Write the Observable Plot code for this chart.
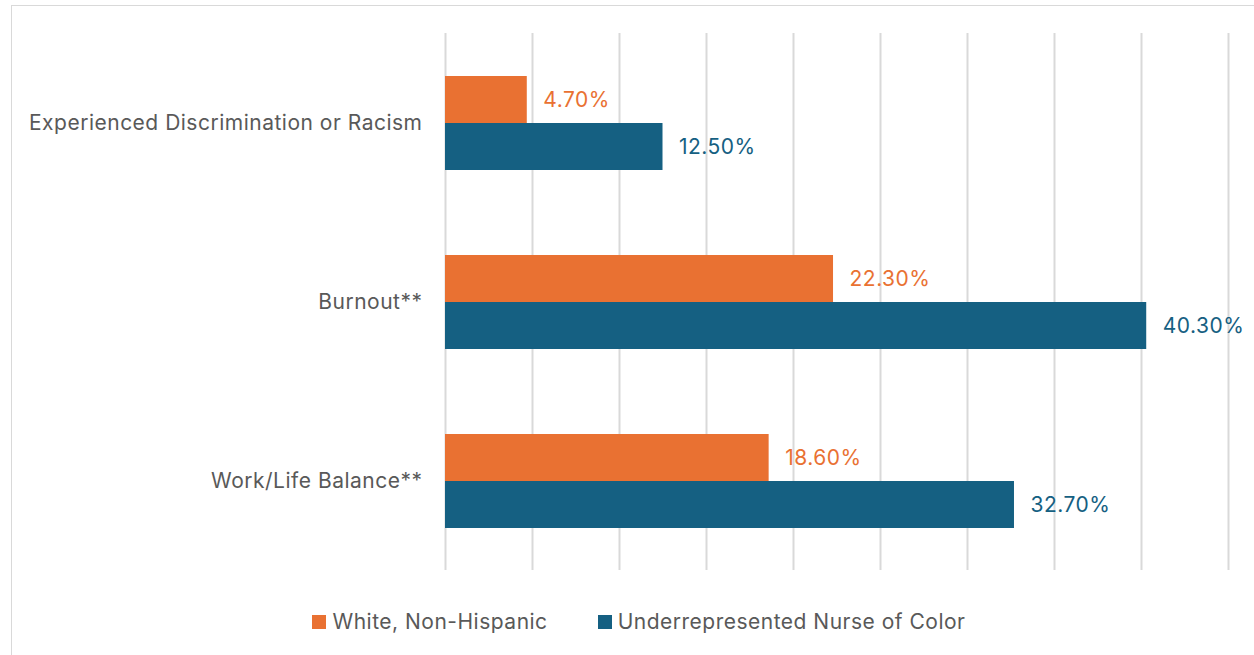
<!DOCTYPE html>
<html>
<head>
<meta charset="utf-8">
<script src="https://cdn.jsdelivr.net/npm/d3@7"></script>
<script src="https://cdn.jsdelivr.net/npm/@observablehq/plot@0.6"></script>
<style>
  html, body { margin: 0; padding: 0; background: #fff; overflow: hidden; width: 1254px; height: 655px; }
  #frame { position: absolute; left: 11px; top: 5px; width: 1400px; height: 800px; border: 1.5px solid #d9d9d9; box-sizing: border-box; }
  #chart { position: absolute; left: 0; top: 0; }
  #legend { position: absolute; left: 12px; top: 609px; width: 1254px; display: flex; justify-content: center; font-family: Inter, sans-serif; font-size: 21px; letter-spacing: 0.5px; color: #595959; }
  .item { display: flex; align-items: center; margin: 0 25px; }
  .sw { width: 14px; height: 14px; margin-right: 6px; }
</style>
</head>
<body>
<div id="frame"></div>
<div id="chart"></div>
<div id="legend"></div>
<script>
const categories = ["Experienced Discrimination or Racism", "Burnout**", "Work/Life Balance**"];
const series = ["White, Non-Hispanic", "Underrepresented Nurse of Color"];
const colors = ["#E97132", "#156082"];
const whiteValues = [4.7, 22.3, 18.6];
const nurseValues = [12.5, 40.3, 32.7];
const xTicks = [0, 5, 10, 15, 20, 25, 30, 35, 40, 45];

const data = [];
categories.forEach((c, i) => {
  data.push({category: c, series: series[0], value: whiteValues[i]});
  data.push({category: c, series: series[1], value: nurseValues[i]});
});

const font = "Inter, sans-serif";
const chart = Plot.plot({
  width: 1254,
  height: 600,
  marginLeft: 445,
  marginRight: 26,
  marginTop: 33,
  marginBottom: 30,
  style: {fontFamily: font, background: "transparent", letterSpacing: "0.5px"},
  x: {domain: [0, 45], axis: null},
  fy: {domain: categories, padding: 0, label: null},
  y: {domain: series, paddingInner: 0, paddingOuter: 0.904, axis: null},
  color: {domain: series, range: colors},
  marks: [
    Plot.ruleX(xTicks, {stroke: "#d9d9d9", strokeWidth: 2}),
    Plot.barX(data, {x: "value", y: "series", fy: "category", fill: "series"}),
    Plot.text(data, {x: "value", y: "series", fy: "category", fill: "series",
      text: d => d.value.toFixed(2) + "%", dx: 16, textAnchor: "start", fontSize: 21}),
    Plot.axisFy({anchor: "left", tickSize: 0, tickPadding: 23, fontSize: 21, color: "#595959", label: null})
  ]
});
document.getElementById("chart").appendChild(chart);

const legend = document.getElementById("legend");
series.forEach((s, i) => {
  const item = document.createElement("div");
  item.className = "item";
  const sw = document.createElement("div");
  sw.className = "sw";
  sw.style.background = colors[i];
  const t = document.createElement("span");
  t.textContent = s;
  item.appendChild(sw);
  item.appendChild(t);
  legend.appendChild(item);
});
</script>
</body>
</html>
